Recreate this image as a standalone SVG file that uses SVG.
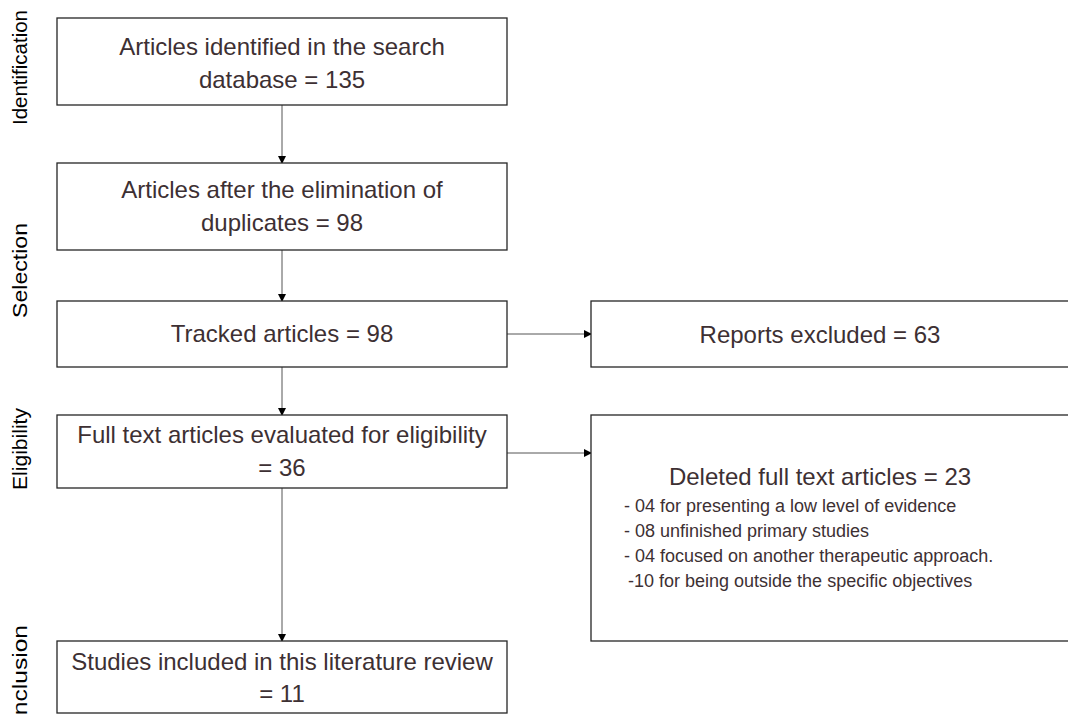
<svg xmlns="http://www.w3.org/2000/svg" width="1068" height="715" viewBox="0 0 1068 715">
<style>
.box{fill:#fff;stroke:#262626;stroke-width:1.3}
.t{font-family:"Liberation Sans",Arial,sans-serif;font-size:24px;fill:#3d3033;text-anchor:middle}
.s{font-family:"Liberation Sans",Arial,sans-serif;font-size:18px;fill:#3d3033}
.side{font-family:"Liberation Sans",Arial,sans-serif;font-size:21px;fill:#000}
.c{stroke:#555;stroke-width:1;fill:none;marker-end:url(#ah)}
</style>
<defs>
<marker id="ah" markerWidth="8" markerHeight="8" refX="7" refY="4" orient="auto" markerUnits="userSpaceOnUse">
<path d="M0,0 L8,4 L0,8 z" fill="#000"/>
</marker>
</defs>
<rect width="1068" height="715" fill="#fff"/>
<g id="side-labels">
<text class="side" transform="translate(27,125) rotate(-90)" textLength="115" lengthAdjust="spacingAndGlyphs">Identification</text>
<text class="side" transform="translate(27,318) rotate(-90)" textLength="95" lengthAdjust="spacingAndGlyphs">Selection</text>
<text class="side" transform="translate(27,490) rotate(-90)" textLength="82" lengthAdjust="spacingAndGlyphs">Eligibility</text>
<text class="side" transform="translate(27,722) rotate(-90)" textLength="97" lengthAdjust="spacingAndGlyphs">Inclusion</text>
</g>
<g id="connectors">
<line class="c" x1="282" y1="105" x2="282" y2="163"/>
<line class="c" x1="282" y1="250" x2="282" y2="301"/>
<line class="c" x1="282" y1="367" x2="282" y2="415"/>
<line class="c" x1="282" y1="488" x2="282" y2="641"/>
<line class="c" x1="507" y1="334" x2="591" y2="334"/>
<line class="c" x1="507" y1="453" x2="591" y2="453"/>
</g>
<g id="n1">
<rect class="box" x="57" y="18" width="450" height="87"/>
<text class="t" x="282" y="55">Articles identified in the search</text>
<text class="t" x="282" y="88">database = 135</text>
</g>
<g id="n2">
<rect class="box" x="57" y="163" width="450" height="87"/>
<text class="t" x="282" y="198">Articles after the elimination of</text>
<text class="t" x="282" y="231">duplicates = 98</text>
</g>
<g id="n3">
<rect class="box" x="57" y="301" width="450" height="66"/>
<text class="t" x="282" y="342">Tracked articles = 98</text>
</g>
<g id="n4">
<rect class="box" x="57" y="415" width="450" height="73"/>
<text class="t" x="282" y="443">Full text articles evaluated for eligibility</text>
<text class="t" x="282" y="476">= 36</text>
</g>
<g id="n5">
<rect class="box" x="57" y="641" width="450" height="72"/>
<text class="t" x="282" y="670">Studies included in this literature review</text>
<text class="t" x="282" y="702">= 11</text>
</g>
<g id="n6">
<rect class="box" x="591" y="301" width="480" height="66"/>
<text class="t" x="820" y="343">Reports excluded = 63</text>
</g>
<g id="n7">
<rect class="box" x="591" y="415" width="480" height="226"/>
<text class="t" x="820" y="485">Deleted full text articles = 23</text>
<text class="s" x="624" y="512">- 04 for presenting a low level of evidence</text>
<text class="s" x="624" y="537">- 08 unfinished primary studies</text>
<text class="s" x="624" y="562">- 04 focused on another therapeutic approach.</text>
<text class="s" x="628" y="587">-10 for being outside the specific objectives</text>
</g>
</svg>
